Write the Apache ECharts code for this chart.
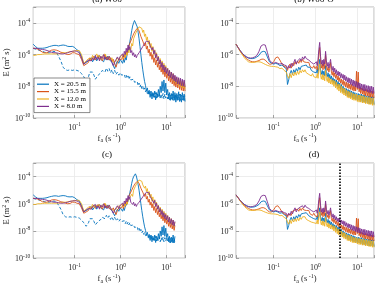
<!DOCTYPE html>
<html>
<head>
<meta charset="utf-8">
<title>W06 spectra</title>
<script src="https://cdn.jsdelivr.net/npm/echarts@6/dist/echarts.min.js"></script>
<style>
html, body { margin: 0; padding: 0; background: #fff; }
#chart { width: 377px; height: 285px; }
</style>
</head>
<body>
<div id="chart"></div>
<script>
/* frequency f_a (s^-1) */
var freq = [
	0.0126, 0.0141, 0.0158, 0.0178, 0.0200, 0.0224, 0.0251, 0.0282, 0.0316, 0.0355,
	0.0398, 0.0447, 0.0501, 0.0562, 0.0631, 0.0708, 0.0794, 0.0891, 0.100, 0.112,
	0.126, 0.141, 0.158, 0.178, 0.200,
	0.214, 0.229, 0.245, 0.263, 0.282, 0.302, 0.324, 0.347, 0.372, 0.398,
	0.427, 0.457, 0.490, 0.525, 0.562, 0.603, 0.646, 0.692, 0.741, 0.794,
	0.851, 0.912, 0.977,
	1.05, 1.10, 1.15, 1.20, 1.26, 1.32, 1.38, 1.45, 1.51, 1.58,
	1.66, 1.74, 1.82, 1.91, 2.00, 2.09, 2.19, 2.29, 2.40, 2.51,
	2.63, 2.75, 2.88, 3.02, 3.16, 3.31, 3.47, 3.63, 3.80, 3.98,
	4.17, 4.37, 4.57, 4.79, 5.01, 5.25, 5.50, 5.75, 6.03, 6.31,
	6.61, 6.92, 7.24, 7.59, 7.94, 8.32, 8.71, 9.12, 9.55, 10.0,
	10.5, 11.0, 11.5, 12.0, 12.6, 13.2, 13.8, 14.5, 15.1, 15.8,
	16.6, 17.4, 18.2, 19.1, 20.0, 20.9, 21.9, 22.9, 24.0, 25.1
];

var legendNames = ['X = 20.5 m', 'X = 15.5 m', 'X = 12.0 m', 'X = 8.0 m'];
var colors = ['#0072BD', '#D95319', '#EDB120', '#7E2F8E'];
var panelTitles = ['(a) W06', '(b) W06-O', '(c)', '(d)'];

/* W06, E (m^2 s) */
var aDash = [
	2.5e-6, 2.2e-6, 2e-6, 1.8e-6, 1.6e-6, 1.4e-6, 1.3e-6, 1.3e-6, 1.4e-6, 1.6e-6,
	1.4e-6, 7.9e-7, 4e-7, 1.6e-7, 1.1e-7, 1e-7, 1.1e-7, 1e-7, 1.1e-7, 1e-7,
	8.9e-8, 6.3e-8, 4e-8, 2.2e-8, 4e-8,
	7.9e-8, 1e-7, 7.9e-8, 5e-8, 2.8e-8, 3.5e-8, 5e-8, 4e-8, 7.1e-8, 1e-7,
	1.3e-7, 7.9e-8, 1.4e-7, 8.9e-8, 1.3e-7, 7.1e-8, 1.1e-7, 6.3e-8, 1e-7, 5.6e-8,
	7.9e-8, 5e-8, 7.1e-8,
	5e-8, 6.3e-8, 4e-8, 5.6e-8, 3.5e-8, 5e-8, 3.2e-8, 4.5e-8, 2.8e-8, 4e-8,
	2.5e-8, 3.2e-8, 2e-8, 2.8e-8, 1.8e-8, 2.2e-8, 1.4e-8, 2e-8, 1.1e-8, 1.6e-8,
	8.9e-9, 1.3e-8, 7.1e-9, 1e-8, 5.6e-9, 7.9e-9, 4.5e-9, 6.3e-9, 3.5e-9, 5e-9,
	2.8e-9, 4.5e-9, 2.5e-9, 4e-9, 2.2e-9, 3.5e-9, 2e-9, 4e-9, 1.8e-9, 3.2e-9,
	2e-9, 3.5e-9, 1.6e-9, 3.2e-9, 1.8e-9, 3.5e-9, 1.6e-9, 3.2e-9, 1.8e-9, 3.5e-9,
	1.6e-9, 3.2e-9, 1.4e-9, 2.8e-9, 1.6e-9, 3.2e-9, 1.3e-9, 2.8e-9, 1.4e-9, 3.2e-9,
	1.3e-9, 2.8e-9, 1.4e-9, 3.2e-9, 1.3e-9, 2.8e-9, 1.4e-9, 2.5e-9, 1.3e-9, 2.5e-9
];
var aBlue = [
	4.5e-6, 3.2e-6, 2.5e-6, 2.5e-6, 2.5e-6, 2.6e-6, 2.8e-6, 3.2e-6, 3.5e-6, 3.8e-6,
	3.8e-6, 3.5e-6, 3.8e-6, 4e-6, 3.8e-6, 3.3e-6, 3.2e-6, 3.3e-6, 2.8e-6, 2e-6,
	1.6e-6, 7.9e-7, 2.5e-7, 3.2e-7, 4e-7,
	4.5e-7, 6.3e-7, 3.5e-7, 5e-7, 7.1e-7, 4e-7, 5.6e-7, 8.9e-7, 5e-7, 6.3e-7,
	3.5e-7, 7.1e-7, 4.5e-7, 7.9e-7, 5e-7, 6.3e-7, 3.2e-7, 2e-7, 1.3e-7, 2.5e-7,
	4e-7, 2.8e-7, 5e-7,
	4.5e-7, 2.8e-7, 5e-7, 3.2e-7, 6.3e-7, 4.5e-7, 1e-6, 1.6e-6, 3.2e-6, 6.3e-6,
	1.4e-5, 3.2e-5, 6.3e-5, 1e-4, 1.4e-4, 1.6e-4, 1.1e-4, 5.6e-5, 2.5e-5, 1e-5,
	3.2e-6, 1e-6, 3.2e-7, 1.1e-7, 4.5e-8, 2e-8, 1.1e-8, 5e-9, 7.9e-9, 3.2e-9,
	5.6e-9, 2e-9, 5e-9, 1.6e-9, 4e-9, 2e-9, 5e-9, 1.4e-9, 4e-9, 2e-9,
	6.3e-9, 2.5e-9, 1e-8, 4e-9, 2e-8, 5e-9, 2.5e-8, 4e-9, 1.6e-8, 3.2e-9,
	6.3e-9, 1.6e-9, 4e-9, 1.3e-9, 3.5e-9, 1.4e-9, 5e-9, 1.3e-9, 4e-9, 1e-9,
	3.5e-9, 1.3e-9, 4.5e-9, 1.1e-9, 3.2e-9, 1e-9, 4e-9, 1.3e-9, 3.2e-9, 1.1e-9
];
var aRed = [
	2.5e-6, 2.4e-6, 2.2e-6, 1.8e-6, 1.4e-6, 1.3e-6, 1.3e-6, 1.6e-6, 1.9e-6, 2e-6,
	1.9e-6, 1.7e-6, 1.4e-6, 1.3e-6, 1.1e-6, 1e-6, 1.05e-6, 1.3e-6, 1.3e-6, 1.1e-6,
	1e-6, 5e-7, 2e-7, 2.5e-7, 3.2e-7,
	6.3e-7, 4e-7, 5.6e-7, 7.9e-7, 4.5e-7, 6.3e-7, 8.9e-7, 5e-7, 7.1e-7, 4e-7,
	6.3e-7, 1e-6, 5e-7, 7.1e-7, 4.5e-7, 6.3e-7, 3.5e-7, 5e-7, 2.5e-7, 1.6e-7,
	3.2e-7, 5e-7, 4e-7,
	5e-7, 7.9e-7, 4.5e-7, 1e-6, 6.3e-7, 1.6e-6, 1e-6, 2.5e-6, 2e-6, 5e-6,
	4e-6, 1e-5, 7.9e-6, 2e-5, 1.6e-5, 3.2e-5, 2.5e-5, 4.5e-5, 4e-5, 3.2e-5,
	2.8e-5, 1.4e-5, 1.8e-5, 7.1e-6, 8.9e-6, 3.5e-6, 5.6e-6, 2.2e-6, 3.5e-6, 1.3e-6,
	2.2e-6, 7.9e-7, 1.4e-6, 5e-7, 1e-6, 3.2e-7, 6.3e-7, 2.2e-7, 4.5e-7, 1.6e-7,
	3.2e-7, 1.1e-7, 2.2e-7, 7.9e-8, 1.6e-7, 5.6e-8, 1.3e-7, 4e-8, 8.9e-8, 3.2e-8,
	6.3e-8, 2.2e-8, 5e-8, 1.8e-8, 4e-8, 1.4e-8, 3.2e-8, 1.1e-8, 2.5e-8, 8.9e-9,
	2.2e-8, 7.9e-9, 2e-8, 6.3e-9, 1.8e-8, 5.6e-9, 1.6e-8, 5e-9, 1.4e-8, 5e-9
];
var aYellow = [
	8.9e-7, 8.9e-7, 1e-6, 1e-6, 1.05e-6, 1.1e-6, 1.1e-6, 1.1e-6, 1.1e-6, 1.1e-6,
	1.1e-6, 1.1e-6, 1.2e-6, 1.3e-6, 1.3e-6, 1.4e-6, 1.5e-6, 1.6e-6, 1.7e-6, 1.8e-6,
	1.8e-6, 1e-6, 2.8e-7, 4e-7, 5.6e-7,
	7.1e-7, 5e-7, 8.9e-7, 5.6e-7, 7.9e-7, 1.1e-6, 6.3e-7, 8.9e-7, 5e-7, 7.9e-7,
	6.3e-7, 1.1e-6, 7.1e-7, 5e-7, 7.9e-7, 4.5e-7, 6.3e-7, 3.2e-7, 2.5e-7, 4e-7,
	6.3e-7, 4.5e-7, 7.1e-7,
	6.3e-7, 1e-6, 5.6e-7, 1.1e-6, 7.1e-7, 1.4e-6, 8.9e-7, 1.8e-6, 1.3e-6, 2.8e-6,
	2e-6, 5e-6, 3.5e-6, 1e-5, 7.9e-6, 2e-5, 1.6e-5, 3.5e-5, 3.2e-5, 5.6e-5,
	6.3e-5, 5e-5, 4.5e-5, 2.5e-5, 3.5e-5, 1.4e-5, 2e-5, 7.9e-6, 1.3e-5, 4.5e-6,
	7.9e-6, 2.8e-6, 5e-6, 1.6e-6, 3.2e-6, 1e-6, 2e-6, 6.3e-7, 1.3e-6, 4e-7,
	7.9e-7, 2.8e-7, 5.6e-7, 2e-7, 4e-7, 1.3e-7, 2.8e-7, 8.9e-8, 2e-7, 6.3e-8,
	1.4e-7, 5e-8, 1e-7, 3.5e-8, 7.9e-8, 2.8e-8, 6.3e-8, 2e-8, 4.5e-8, 1.6e-8,
	3.5e-8, 1.3e-8, 3.2e-8, 1e-8, 2.5e-8, 8.9e-9, 2.2e-8, 7.9e-9, 2e-8, 7.1e-9
];
var aPurple = [
	2.5e-6, 2.5e-6, 2.4e-6, 2.2e-6, 2.1e-6, 2e-6, 1.8e-6, 1.6e-6, 1.4e-6, 1.3e-6,
	1.3e-6, 1.2e-6, 1.1e-6, 1.1e-6, 1.2e-6, 1.3e-6, 1.5e-6, 1.6e-6, 1.7e-6, 1.6e-6,
	1.3e-6, 6.3e-7, 2.5e-7, 3.5e-7, 4.5e-7,
	5.6e-7, 4e-7, 6.3e-7, 4.5e-7, 8.9e-7, 5e-7, 7.1e-7, 4e-7, 7.9e-7, 5.6e-7,
	1e-6, 5e-7, 7.1e-7, 4.5e-7, 7.9e-7, 5e-7, 3.2e-7, 2e-7, 3.5e-7, 5e-7,
	7.1e-7, 4.5e-7, 7.9e-7,
	6.3e-7, 1.1e-6, 7.1e-7, 1.6e-6, 1e-6, 2.5e-6, 1.4e-6, 4e-6, 2e-6, 3.2e-6,
	1.3e-6, 1.8e-6, 8.9e-7, 1.3e-6, 7.1e-7, 1e-6, 6.3e-7, 8.9e-7, 7.1e-7, 1.3e-6,
	1.1e-6, 2e-6, 1.8e-6, 3.2e-6, 2.8e-6, 5e-6, 4.5e-6, 7.1e-6, 6.3e-6, 7.9e-6,
	6.3e-6, 3.5e-6, 4.5e-6, 2e-6, 2.8e-6, 1.1e-6, 1.8e-6, 6.3e-7, 1.1e-6, 4e-7,
	7.1e-7, 2.5e-7, 4.5e-7, 1.6e-7, 3.2e-7, 1.1e-7, 2.2e-7, 7.9e-8, 1.6e-7, 6.3e-8,
	1.3e-7, 4.5e-8, 1e-7, 3.5e-8, 7.9e-8, 2.8e-8, 6.3e-8, 2.2e-8, 5e-8, 1.8e-8,
	4e-8, 1.4e-8, 3.5e-8, 1.3e-8, 3.2e-8, 1.1e-8, 2.8e-8, 1e-8, 2.5e-8, 8.9e-9
];

/* W06-O, E (m^2 s) */
var bBlue = [
	4.5e-6, 2.8e-6, 1.8e-6, 1.2e-6, 8.9e-7, 7.1e-7, 6e-7, 5.6e-7, 5.6e-7, 6e-7,
	7.1e-7, 8.9e-7, 1.4e-6, 1.6e-6, 1.5e-6, 7.1e-7, 3.5e-7, 2.8e-7, 2.5e-7, 2.8e-7,
	2.5e-7, 2e-7, 2.2e-7, 1.6e-7, 1.3e-7,
	1.3e-8, 2.5e-8, 6.3e-8, 1e-7, 5.6e-8, 1.1e-7, 7.1e-8, 1.3e-7, 8.9e-8, 1.6e-7,
	1.1e-7, 1.8e-7, 1.4e-7, 2e-7, 1.6e-7, 2.2e-7, 1.6e-7, 1.3e-7, 1.6e-7, 1e-7,
	1.1e-7, 7.9e-8, 8.9e-8,
	7.1e-8, 1.3e-7, 6.3e-8, 1.6e-7, 5e-7, 1e-7, 5.6e-8, 1e-7, 5e-8, 8.9e-8,
	4.5e-8, 2e-7, 6.3e-8, 4e-8, 7.1e-8, 3.2e-8, 5.6e-8, 2.8e-8, 4.5e-8, 2e-8,
	3.5e-8, 1.6e-8, 2.8e-8, 1.3e-8, 2.5e-8, 1e-8, 2e-8, 7.9e-9, 1.6e-8, 6.3e-9,
	1.3e-8, 4.5e-9, 1e-8, 4e-9, 7.9e-9, 3.2e-9, 7.1e-9, 2.5e-9, 6.3e-9, 2.2e-9,
	5.6e-9, 2e-9, 5e-9, 1.8e-9, 4.5e-9, 1.6e-9, 4e-9, 1.4e-9, 3.5e-9, 1.3e-9,
	3.5e-9, 1.3e-9, 3.2e-9, 1.1e-9, 3.2e-9, 1e-9, 2.8e-9, 1e-9, 2.8e-9, 8.9e-10,
	2.5e-9, 8.9e-10, 2.5e-9, 7.9e-10, 2.5e-9, 7.9e-10, 2.2e-9, 7.9e-10, 2.2e-9, 7.1e-10
];
var bRed = [
	4.5e-6, 2.8e-6, 1.7e-6, 1.05e-6, 7.6e-7, 5.6e-7, 4.5e-7, 3.8e-7, 3.5e-7, 3.5e-7,
	3.8e-7, 4.2e-7, 5e-7, 5.2e-7, 4.5e-7, 3.2e-7, 2.5e-7, 2.5e-7, 3.5e-7, 6.3e-7,
	7.1e-7, 4.5e-7, 2.5e-7, 1.8e-7, 1.6e-7,
	1e-7, 1.8e-7, 2.5e-7, 1.4e-7, 2.8e-7, 2e-7, 3.5e-7, 2.5e-7, 4e-7, 2.8e-7,
	4.5e-7, 3.2e-7, 5e-7, 3.5e-7, 4.5e-7, 3.2e-7, 2.5e-7, 3.2e-7, 1.8e-7, 2.2e-7,
	1.4e-7, 2e-7, 1.3e-7,
	1.8e-7, 1.1e-7, 2.5e-7, 1e-6, 2.8e-6, 4e-7, 1.4e-7, 2.5e-7, 1.1e-7, 3.2e-7,
	1.3e-7, 1e-6, 2e-7, 1e-7, 1.6e-7, 7.9e-8, 1.4e-7, 3.2e-7, 7.9e-8, 5e-8,
	8.9e-8, 4e-8, 7.1e-8, 3.2e-8, 5.6e-8, 2.5e-8, 4.5e-8, 2e-8, 3.5e-8, 1.6e-8,
	2.8e-8, 1.3e-8, 2.5e-8, 1.1e-8, 2e-8, 8.9e-9, 1.8e-8, 7.9e-9, 1.6e-8, 7.1e-9,
	1.4e-8, 6.3e-9, 1.3e-8, 5.6e-9, 1.1e-8, 5e-9, 1e-8, 5e-9, 8.9e-8, 6.3e-9,
	7.9e-8, 4.5e-9, 8.9e-9, 3.5e-9, 7.9e-9, 3.2e-9, 7.1e-9, 2.8e-9, 6.3e-9, 2.5e-9,
	6.3e-9, 2.5e-9, 5.6e-9, 2.2e-9, 5.6e-9, 2e-9, 5e-9, 2e-9, 5e-9, 1.8e-9
];
var bYellow = [
	4.5e-6, 2.8e-6, 1.6e-6, 1e-6, 6.3e-7, 4.5e-7, 3.5e-7, 3.2e-7, 3.2e-7, 3.3e-7,
	3.5e-7, 3.5e-7, 3.3e-7, 2.8e-7, 2.4e-7, 2.1e-7, 1.9e-7, 1.8e-7, 1.8e-7, 1.7e-7,
	1.6e-7, 1.3e-7, 1.4e-7, 1e-7, 7.9e-8,
	4.5e-8, 3.2e-8, 6.3e-8, 3.5e-8, 7.1e-8, 4.5e-8, 7.9e-8, 5e-8, 8.9e-8, 5.6e-8,
	1e-7, 7.1e-8, 1.1e-7, 7.9e-8, 1.1e-7, 7.1e-8, 8.9e-8, 5.6e-8, 7.1e-8, 4.5e-8,
	6.3e-8, 4e-8, 5e-8,
	3.5e-8, 6.3e-8, 3.2e-8, 1e-7, 2.5e-7, 5e-8, 2.8e-8, 5.6e-8, 2.5e-8, 5e-8,
	2.2e-8, 1e-7, 3.2e-8, 2e-8, 4e-8, 1.6e-8, 3.2e-8, 1.4e-8, 2.8e-8, 1.3e-8,
	2.5e-8, 1e-8, 2.2e-8, 7.9e-9, 1.8e-8, 6.3e-9, 1.4e-8, 5e-9, 1.3e-8, 4e-9,
	1e-8, 3.5e-9, 7.9e-9, 2.8e-9, 7.1e-9, 2.5e-9, 5.6e-9, 2e-9, 5e-9, 1.8e-9,
	4.5e-9, 1.6e-9, 4e-9, 1.4e-9, 3.5e-9, 1.3e-9, 3.2e-9, 1.3e-9, 3.2e-9, 1.1e-9,
	2.8e-9, 1e-9, 2.8e-9, 1e-9, 2.5e-9, 8.9e-10, 2.5e-9, 8.9e-10, 2.2e-9, 7.9e-10,
	2.2e-9, 7.9e-10, 2e-9, 7.1e-10, 2e-9, 7.1e-10, 1.8e-9, 6.3e-10, 1.8e-9, 6.3e-10
];
var bPurple = [
	4.5e-6, 2.8e-6, 1.8e-6, 1.2e-6, 8.9e-7, 7.1e-7, 6.3e-7, 6e-7, 6.3e-7, 7.1e-7,
	8.9e-7, 1.6e-6, 3.5e-6, 4.2e-6, 4e-6, 1.4e-6, 4.5e-7, 3.2e-7, 2.8e-7, 3.2e-7,
	2.8e-7, 2.5e-7, 2.8e-7, 2.2e-7, 2e-7,
	1.3e-7, 2e-7, 1.4e-7, 2.8e-7, 1.8e-7, 3.2e-7, 5e-7, 2.5e-7, 4e-7, 3.2e-7,
	5.6e-7, 4e-7, 7.1e-7, 5e-7, 7.9e-7, 5.6e-7, 7.1e-7, 4.5e-7, 5e-7, 3.2e-7,
	3.5e-7, 2.5e-7, 2.8e-7,
	3.5e-7, 2e-7, 5e-7, 2e-6, 5.9e-6, 7.9e-7, 2.5e-7, 4.5e-7, 2e-7, 5e-7,
	2.5e-7, 1.6e-6, 4e-7, 1.8e-7, 3.2e-7, 1.4e-7, 2.8e-7, 5e-7, 1.6e-7, 1e-7,
	1.8e-7, 7.9e-8, 1.4e-7, 6.3e-8, 1.1e-7, 5e-8, 8.9e-8, 4.5e-8, 7.9e-8, 3.5e-8,
	6.3e-8, 3.2e-8, 5.6e-8, 2.5e-8, 5e-8, 2.2e-8, 4e-8, 1.8e-8, 3.5e-8, 1.6e-8,
	3.2e-8, 1.3e-8, 2.8e-8, 1.1e-8, 2.5e-8, 1e-8, 2.2e-8, 8.9e-9, 2e-8, 7.9e-9,
	1.8e-8, 7.1e-9, 1.6e-8, 6.3e-9, 1.4e-8, 5.6e-9, 1.3e-8, 5e-9, 1.3e-8, 5e-9,
	1.1e-8, 4.5e-9, 1.1e-8, 4e-9, 1e-8, 4e-9, 1e-8, 3.5e-9, 8.9e-9, 3.5e-9
];

var fEndC = 15.5;   // (c) stops here
var fMarkD = 3.8;   // dotted line in (d)

var serif = '"Liberation Serif", "DejaVu Serif", serif';
var txt = '#262626';

var grids = [
	{ left: 29, top: 7, width: 156, height: 111 },
	{ left: 236, top: 7, width: 156, height: 111 },
	{ left: 29, top: 163, width: 156, height: 110 },
	{ left: 236, top: 163, width: 156, height: 110 }
];

var tickRich = {
	b: { fontFamily: serif, fontSize: 8, color: txt, lineHeight: 10, verticalAlign: 'bottom' },
	s: { fontFamily: serif, fontSize: 5.5, color: txt, lineHeight: 10, verticalAlign: 'top' }
};
var nameRich = {
	m: { fontFamily: serif, fontSize: 8.5, color: txt, lineHeight: 11, verticalAlign: 'middle' },
	sub: { fontFamily: serif, fontSize: 6, color: txt, lineHeight: 11, verticalAlign: 'bottom' },
	sup: { fontFamily: serif, fontSize: 6, color: txt, lineHeight: 11, verticalAlign: 'top' }
};

function powLabel(even) {
	return function(v) {
		var l = Math.log(v) / Math.LN10;
		var e = Math.round(l);
		if(Math.abs(l - e) > 1e-6) return '';
		if(even && e % 2 !== 0) return '';
		return '{b|10}{s|' + e + '}';
	};
}

function pairs(vals, fmax) {
	var out = [];
	for(var i = 0; i < freq.length; i++) {
		if(fmax && freq[i] > fmax) break;
		out.push([freq[i], vals[i]]);
	}
	return out;
}

function line(name, vals, color, idx, dashed, fmax) {
	return {
		type: 'line',
		name: name,
		xAxisIndex: idx,
		yAxisIndex: idx,
		data: pairs(vals, fmax),
		symbol: 'none',
		showSymbol: false,
		silent: true,
		animation: false,
		lineStyle: { color: color, width: 0.9, type: dashed ? [3, 2] : 'solid' },
		itemStyle: { color: color }
	};
}

var xAxes = [], yAxes = [], series = [];
for(var k = 0; k < 4; k++) {
	xAxes.push({
		type: 'log', gridIndex: k, min: 0.0126, max: 25,
		axisLine: { show: false },
		axisTick: { inside: true, length: 3, lineStyle: { color: '#8c8c8c', width: 0.8 } },
		axisLabel: { margin: 4, formatter: powLabel(false), rich: tickRich },
		splitLine: { show: true, lineStyle: { color: '#e9e9e9', width: 0.8 } },
		name: '{m|f}{sub|a}{m| (s}{sup| -1}{m|)}',
		nameLocation: 'middle', nameGap: 13,
		nameTextStyle: { rich: nameRich }
	});
	yAxes.push({
		type: 'log', gridIndex: k, min: 1e-10, max: 1e-3, interval: 2,
		axisLine: { show: false },
		axisTick: { inside: true, length: 3, lineStyle: { color: '#8c8c8c', width: 0.8 } },
		axisLabel: { margin: 3, formatter: powLabel(true), rich: tickRich },
		splitLine: { show: true, lineStyle: { color: '#e9e9e9', width: 0.8 } },
		name: (k % 2 === 0) ? '{m|E (m}{sup|2}{m| s)}' : '',
		nameLocation: 'middle', nameGap: 17,
		nameTextStyle: { rich: nameRich }
	});
}

/* (a) and (c) */
[0, 2].forEach(function(idx) {
	var fmax = idx === 2 ? fEndC : null;
	series.push(line('X = 20.5 m (dashed)', aDash, colors[0], idx, true, fmax));
	series.push(line(legendNames[0], aBlue, colors[0], idx, false, fmax));
	series.push(line(legendNames[1], aRed, colors[1], idx, false, fmax));
	series.push(line(legendNames[2], aYellow, colors[2], idx, false, fmax));
	series.push(line(legendNames[3], aPurple, colors[3], idx, false, fmax));
});
/* (b) and (d) */
[1, 3].forEach(function(idx) {
	series.push(line(legendNames[0], bBlue, colors[0], idx, false));
	series.push(line(legendNames[1], bRed, colors[1], idx, false));
	series.push(line(legendNames[2], bYellow, colors[2], idx, false));
	series.push(line(legendNames[3], bPurple, colors[3], idx, false));
});
series[series.length - 1].markLine = {
	silent: true,
	symbol: 'none',
	animation: false,
	label: { show: false },
	lineStyle: { color: '#000', type: [1.5, 1.5], width: 1.6 },
	data: [{ xAxis: fMarkD }]
};

var titlePos = [[107, 0], [314, 0], [107, 155], [314, 155]];
var graphics = titlePos.map(function(p, i) {
	return {
		type: 'text', x: p[0], y: p[1], z: 100,
		style: {
			text: panelTitles[i], font: '9px ' + serif, fill: '#000',
			align: 'center', verticalAlign: 'middle',
			textAlign: 'center', textVerticalAlign: 'middle'
		}
	};
});

var chart = echarts.init(document.getElementById('chart'), null, { renderer: 'canvas' });
chart.setOption({
	animation: false,
	backgroundColor: '#fff',
	grid: grids.map(function(g) {
		return { left: g.left, top: g.top, width: g.width, height: g.height, show: true, borderColor: '#a6a6a6', borderWidth: 0.8 };
	}),
	xAxis: xAxes,
	yAxis: yAxes,
	legend: {
		data: legendNames,
		selectedMode: false,
		orient: 'vertical',
		left: 34, top: 78,
		itemWidth: 12, itemHeight: 1.2, itemGap: 0,
		icon: 'rect',
		padding: [2.5, 4, 2.5, 3],
		backgroundColor: '#fff',
		borderColor: '#3a3a3a', borderWidth: 0.6,
		textStyle: { fontFamily: serif, fontSize: 7, color: '#000', lineHeight: 7.4 }
	},
	graphic: graphics,
	series: series
});
</script>
</body>
</html>
